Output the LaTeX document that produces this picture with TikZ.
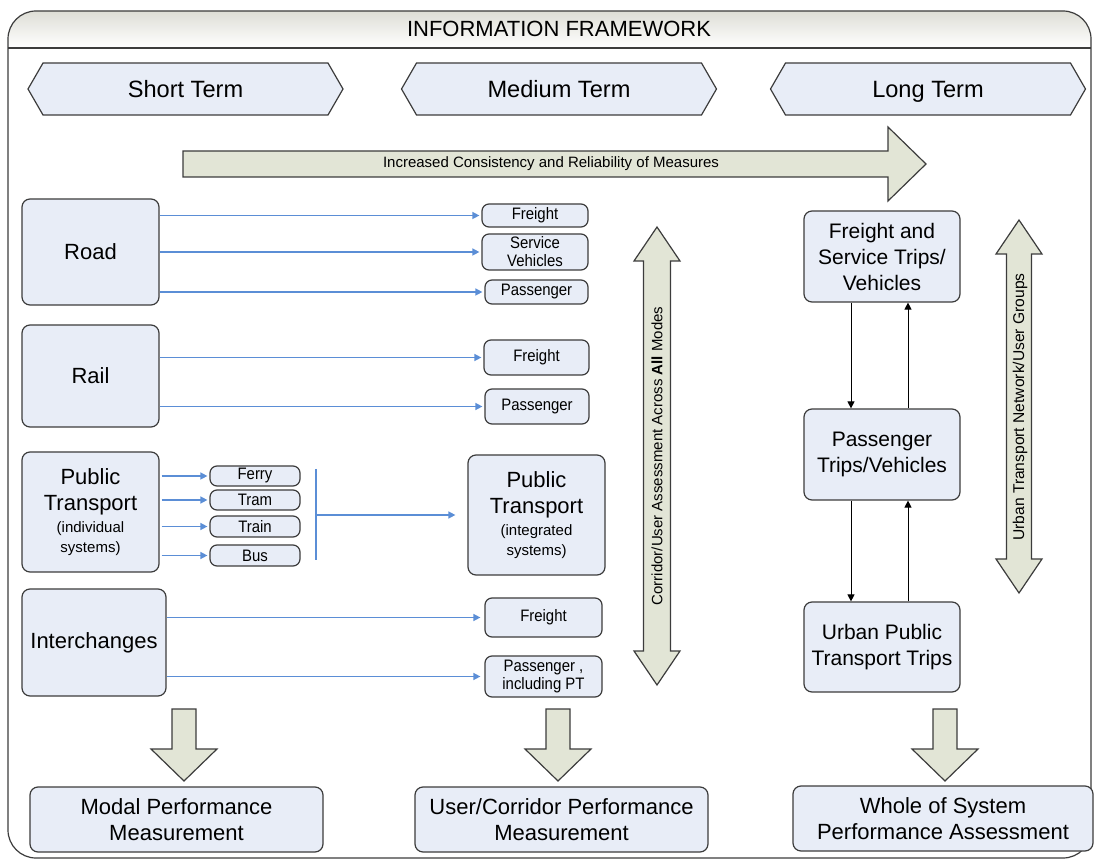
\documentclass[tikz,border=0pt]{standalone}
\usepackage{fontspec}
\setmainfont{Liberation Sans}
\newfontfamily\narrowfont[FakeStretch=0.9]{Liberation Sans}
\usetikzlibrary{shapes.symbols, arrows.meta, positioning, calc}
\definecolor{boxfill}{RGB}{232,237,247}
\definecolor{boxline}{RGB}{60,60,60}
\definecolor{linkblue}{RGB}{91,142,214}
\definecolor{blockfill}{RGB}{226,229,214}
\definecolor{headgray}{RGB}{222,222,214}

\begin{document}
\begin{tikzpicture}[x=0.5pt, y=-0.5pt,
  box/.style={draw=boxline, fill=boxfill, line width=0.6pt, rounded corners=4pt, align=center, inner sep=1pt},
  bigbox/.style={box, font=\fontsize{11}{13}\selectfont},
  tagbox/.style={box, rounded corners=3.5pt, font=\narrowfont\fontsize{8.3}{9}\selectfont},
  termbox/.style={draw=boxline, fill=boxfill, line width=0.6pt, signal, signal to=west and east,
    signal pointer angle=120, minimum width=157.5pt, minimum height=26pt, text height=8.5pt, text depth=0pt,
    font=\fontsize{11.8}{13}\selectfont},
  link/.style={linkblue, line width=0.7pt, -{Triangle[length=3.5pt, width=3.5pt]}},
  flow/.style={black, line width=0.5pt, -{Triangle[length=3.5pt, width=3.5pt]}},
  block/.style={draw=boxline, fill=blockfill, line width=0.6pt, line join=miter},
  blocktext/.style={font=\fontsize{7.5}{9}\selectfont}
]
  \useasboundingbox (0,0) rectangle (1094,861);

  % --- Frame and title ---
  \begin{scope}
    \clip[rounded corners=14pt] (8,11) rectangle (1091,858);
    \shade[top color=headgray, bottom color=white] (8,11) rectangle (1091,48);
  \end{scope}
  \draw[boxline, line width=0.6pt, rounded corners=14pt] (8,11) rectangle (1091,858);
  \draw[boxline, line width=0.6pt] (8,48) -- (1091,48);
  \node[font=\fontsize{11}{12}\selectfont] (title) at (559,29) {INFORMATION FRAMEWORK};

  % --- Time horizons ---
  \node[termbox] (short) at (185.5,89) {Short Term};
  \node[termbox] (medium) at (559,89) {Medium Term};
  \node[termbox] (long) at (928,89) {Long Term};

  \draw[block] (183,151) -- (888,151) -- (888,127) -- (926,164) -- (888,201) -- (888,177) -- (183,177) -- cycle;
  \node[blocktext] (consist) at (551,164) {Increased Consistency and Reliability of Measures};

  % --- Short term: modes ---
  \node[bigbox, minimum width=68.5pt, minimum height=53pt] (road) at (90.5,252) {Road};
  \node[bigbox, minimum width=68.5pt, minimum height=51pt] (rail) at (90.5,376) {Rail};
  \node[bigbox, minimum width=68.5pt, minimum height=60pt] (ptind) at (90.5,512)
    {Public\\Transport\\[-2pt]{\fontsize{7.5}{9}\selectfont(individual}\\[-3pt]{\fontsize{7.5}{9}\selectfont systems)}};
  \node[bigbox, minimum width=72pt, minimum height=53.5pt] (inter) at (94,642.5) {Interchanges};

  % --- Medium term: user groups ---
  \node[tagbox, minimum width=53pt, minimum height=11.5pt] (rfreight) at (535,215.5) {Freight};
  \node[tagbox, minimum width=53pt, minimum height=18pt] (rservice) at (535,252) {Service\\Vehicles};
  \node[tagbox, minimum width=51.5pt, minimum height=12pt] (rpass) at (536.5,292) {Passenger};
  \node[tagbox, minimum width=52.5pt, minimum height=17.5pt] (lfreight) at (536.5,357.5) {Freight};
  \node[tagbox, minimum width=52pt, minimum height=17.5pt] (lpass) at (537,406.5) {Passenger};
  \node[tagbox, minimum width=45pt, minimum height=10pt] (ferry) at (255,476) {Ferry};
  \node[tagbox, minimum width=45pt, minimum height=10pt] (tram) at (255,500) {Tram};
  \node[tagbox, minimum width=45pt, minimum height=10.5pt] (train) at (255,526.5) {Train};
  \node[tagbox, minimum width=45pt, minimum height=10.5pt] (bus) at (255,555.5) {Bus};
  \node[bigbox, minimum width=68.5pt, minimum height=60pt] (ptint) at (536.5,515)
    {Public\\Transport\\[-2pt]{\fontsize{7.5}{9}\selectfont(integrated}\\[-3pt]{\fontsize{7.5}{9}\selectfont systems)}};
  \node[tagbox, minimum width=58.5pt, minimum height=19.5pt] (ifreight) at (543.5,617.5) {Freight};
  \node[tagbox, minimum width=58.5pt, minimum height=20.5pt] (ipass) at (543.5,676.5) {Passenger ,\\including PT};

  \foreach \t in {rfreight, rservice, rpass}
    \draw[link, shorten >=1pt] (road.east |- \t.west) -- (\t.west);
  \foreach \t in {lfreight, lpass}
    \draw[link, shorten >=1pt] (rail.east |- \t.west) -- (\t.west);
  \foreach \t in {ferry, tram, train, bus}
    \draw[link, shorten <=1pt, shorten >=1pt] (ptind.east |- \t.west) -- (\t.west);
  \foreach \t in {ifreight, ipass}
    \draw[link, shorten >=2pt] (inter.east |- \t.west) -- (\t.west);

  \coordinate (bartop) at (316,469);
  \coordinate (barbot) at (316,560);
  \draw[linkblue, line width=0.7pt] (bartop) -- (barbot);
  \draw[link, shorten >=6pt] (bartop |- ptint.west) -- (ptint.west);

  % --- Long term: network ---
  \node[bigbox, font=\fontsize{10.5}{13}\selectfont, minimum width=78pt, minimum height=45.5pt] (fst) at (882,256.5) {Freight and\\Service Trips/\\Vehicles};
  \node[bigbox, font=\fontsize{10.5}{13}\selectfont, minimum width=78pt, minimum height=45.5pt] (ptv) at (882,454.5) {Passenger\\Trips/Vehicles};
  \node[bigbox, font=\fontsize{10.5}{13}\selectfont, minimum width=78pt, minimum height=45pt] (upt) at (882,647) {Urban Public\\Transport Trips};

  \draw[flow] ([xshift=-15.5pt]fst.south) -- ([xshift=-15.5pt]ptv.north);
  \draw[flow] ([xshift=13pt]ptv.north) -- ([xshift=13pt]fst.south);
  \draw[flow] ([xshift=-15.5pt]ptv.south) -- ([xshift=-15.5pt]upt.north);
  \draw[flow] ([xshift=13pt]upt.north) -- ([xshift=13pt]ptv.south);

  % --- Double arrows ---
  \foreach \cx/\top/\bot/\sw in {657/227/685/13.5, 1019/220/593/12.5}
    \draw[block] (\cx,\top) -- (\cx+23,\top+34) -- (\cx+\sw,\top+34) -- (\cx+\sw,\bot-34) -- (\cx+23,\bot-34)
      -- (\cx,\bot) -- (\cx-23,\bot-34) -- (\cx-\sw,\bot-34) -- (\cx-\sw,\top+34) -- (\cx-23,\top+34) -- cycle;
  \node[blocktext, rotate=90] (corrtxt) at (657,456) {Corridor/User Assessment Across \textbf{All} Modes};
  \node[blocktext, font=\fontsize{7.8}{9}\selectfont, rotate=90] (urbantxt) at (1020,407) {Urban Transport Network/User Groups};

  % --- Outcomes ---
  \foreach \cx in {184, 558, 945}
    \draw[block] (\cx-12,709) -- (\cx+12,709) -- (\cx+12,749) -- (\cx+33,749) -- (\cx,781) -- (\cx-33,749) -- (\cx-12,749) -- cycle;
  \node[bigbox, minimum width=146.5pt, minimum height=32.5pt] (modal) at (176.5,819.5) {Modal Performance\\Measurement};
  \node[bigbox, minimum width=146.5pt, minimum height=32.5pt] (corr) at (561.5,819.5) {User/Corridor Performance\\Measurement};
  \node[bigbox, minimum width=150pt, minimum height=32.5pt] (whole) at (943,818.5) {Whole of System\\Performance Assessment};
\end{tikzpicture}
\end{document}
